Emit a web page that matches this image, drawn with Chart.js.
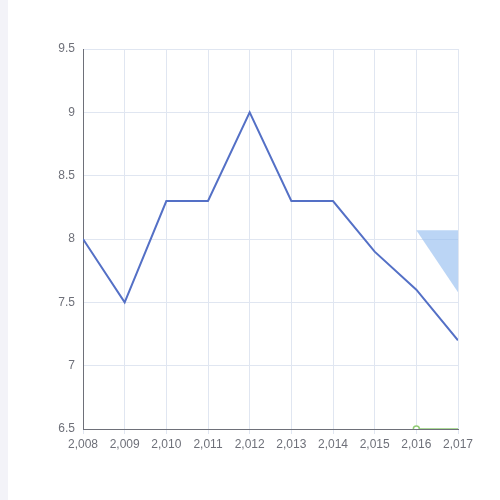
<!DOCTYPE html>
<html><head>
<script src="https://cdn.jsdelivr.net/npm/chart.js@4"></script>
<style>
body{margin:0;background:#f3f3f8;}
#wrap{position:absolute;left:8px;top:0;width:492px;height:500px;background:#fff;}
</style></head>
<body><div id="wrap"><canvas id="c" width="492" height="500"></canvas></div>
<script>
const years=[2008,2009,2010,2011,2012,2013,2014,2015,2016,2017];
const values=[8,7.5,8.3,8.3,9,8.3,8.3,7.9,7.6,7.2];
const bandTop=[8.07,8.07];
const bandBottom=[8.07,7.58];
const bandYears=[2016,2017];
const baseLine=[6.5,6.5];
const yTicks=[6.5,7,7.5,8,8.5,9,9.5];

const pts=(xs,ys)=>xs.map((x,i)=>({x:x,y:ys[i]}));
new Chart(document.getElementById("c"),{
type:"line",
data:{datasets:[
{data:pts(years,values),borderColor:"#5470c6",borderWidth:2,pointRadius:0,tension:0,fill:false},
{data:pts(bandYears,bandTop),borderWidth:0,pointRadius:0,fill:false,borderColor:"transparent"},
{data:pts(bandYears,bandBottom),borderWidth:0,pointRadius:0,fill:"-1",backgroundColor:"rgba(150,190,240,0.65)",borderColor:"transparent"},
{data:pts(bandYears,baseLine),borderColor:"#91cc75",borderWidth:1.5,pointRadius:[3,0],pointBackgroundColor:"#fff",pointBorderColor:"#91cc75",pointBorderWidth:1.5,fill:false}
]},
options:{responsive:false,animation:false,
layout:{padding:{left:0,right:42,top:49,bottom:41}},
plugins:{legend:{display:false},tooltip:{enabled:false}},
scales:{
x:{type:"linear",min:2008,max:2017,afterFit:a=>{a.height=30;},ticks:{stepSize:1,color:"#6e7079",font:{size:12},maxRotation:0},
 grid:{color:"#e0e6f1",tickLength:5},border:{color:"#6e7079"}},
y:{min:6.5,max:9.5,afterFit:a=>{a.width=75;},afterBuildTicks:a=>{a.ticks=yTicks.map(v=>({value:v}));},
 ticks:{color:"#6e7079",font:{size:12},padding:8,callback:v=>String(v)},grid:{color:"#e0e6f1",drawTicks:false},border:{color:"#6e7079"}}
}}
});
</script></body></html>
